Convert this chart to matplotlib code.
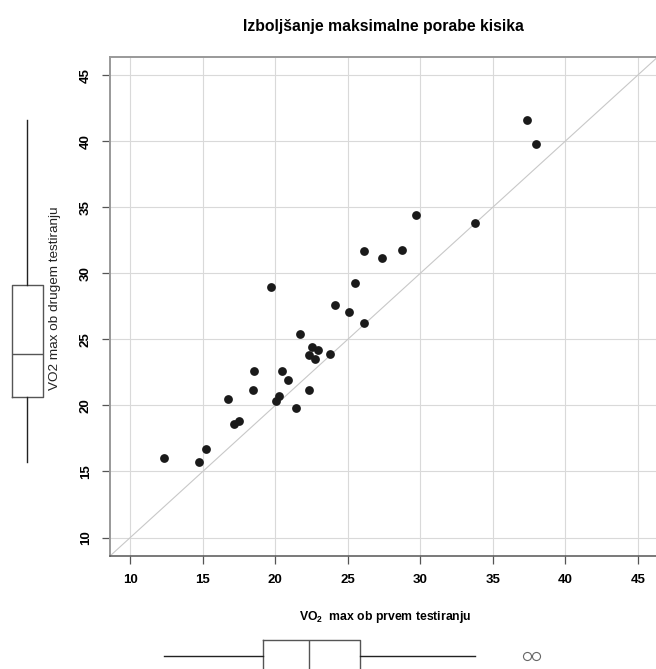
import numpy as np
import matplotlib
matplotlib.use('Agg')
import matplotlib.pyplot as plt

# VO2 max pri prvem in drugem testiranju (odčitano s slike)
prvo = [37.35, 37.97, 29.73, 33.75, 26.13, 28.73, 27.33, 19.71, 25.51, 24.12,
        25.12, 26.15, 21.72, 22.50, 22.97, 22.33, 22.72, 23.75, 18.53, 20.44,
        20.86, 18.43, 22.35, 16.76, 20.25, 20.05, 21.45, 17.52, 17.13, 15.22,
        12.30, 14.73]
drugo = [41.61, 39.80, 34.40, 33.84, 31.67, 31.80, 31.19, 28.97, 29.23, 27.64,
         27.08, 26.22, 25.42, 24.41, 24.20, 23.83, 23.52, 23.88, 22.61, 22.61,
         21.93, 21.13, 21.13, 20.52, 20.70, 20.32, 19.84, 18.83, 18.63, 16.71,
         16.05, 15.73]

oznake = [10, 15, 20, 25, 30, 35, 40, 45]
meje = (10, 45)

naslov = 'Izboljšanje maksimalne porabe kisika'
x_naslov = r'VO$_{\mathbf{2}}$  max ob prvem testiranju'
y_naslov = 'VO2 max ob drugem testiranju'

plt.rcParams['font.family'] = ['Liberation Sans', 'DejaVu Sans']
plt.rcParams['mathtext.fontset'] = 'custom'
plt.rcParams['mathtext.rm'] = 'Liberation Sans'
plt.rcParams['mathtext.bf'] = 'Liberation Sans:bold'

W, H = 656, 669


def px(l, t, w, h):
    # pravokotnik v pikslih (od zgoraj levo) -> delež slike
    return [l / W, 1 - (t + h) / H, w / W, h / H]


def r_boxstats(v):
    # kot R boxplot.stats (fivenum + 1.5 IQR)
    v = np.sort(np.asarray(v, dtype=float))
    n = len(v)
    n4 = np.floor((n + 3) / 2) / 2
    d = np.array([1, n4, (n + 1) / 2, n + 1 - n4, n]) - 1
    q = 0.5 * (v[np.floor(d).astype(int)] + v[np.ceil(d).astype(int)])
    iqr = q[3] - q[1]
    lo = v[v >= q[1] - 1.5 * iqr].min()
    hi = v[v <= q[3] + 1.5 * iqr].max()
    return dict(med=q[2], q1=q[1], q3=q[3], whislo=lo, whishi=hi,
                fliers=v[(v < lo) | (v > hi)])


rob = 0.04 * (meje[1] - meje[0])
lim = (meje[0] - rob, meje[1] + rob)

fig = plt.figure(figsize=(W / 100, H / 100), dpi=100)

ax = fig.add_axes(px(110, 56.7, 548, 499.3))
ax.set_xlim(lim)
ax.set_ylim(lim)
ax.set_xticks(oznake)
ax.set_yticks(oznake)
ax.set_xticklabels(oznake, fontweight='bold', fontsize=9.5)
ax.set_yticklabels(oznake, fontweight='bold', fontsize=9.5, rotation=90, va='center')
ax.tick_params(axis='x', length=5.5, width=0.9, color='#555555', pad=7.5)
ax.tick_params(axis='y', length=5.5, width=0.9, color='#555555', pad=7.5)
ax.grid(True, color='#d9d9d9', lw=0.8)
ax.set_axisbelow(True)
ax.axline((meje[0], meje[0]), slope=1, color='#c8c8c8', lw=0.8, zorder=2)
ax.scatter(prvo, drugo, s=40, c='#1a1a1a', linewidths=0, zorder=3)
for s in ['left', 'top', 'right']:
    ax.spines[s].set_color('#999999')
    ax.spines[s].set_linewidth(1.4)
ax.spines['bottom'].set_color('#555555')
ax.spines['bottom'].set_linewidth(1.1)

fig.text(383.5 / W, 1 - 31 / H, naslov, ha='center', va='baseline',
         fontsize=11.3, fontweight='bold')
fig.text(385 / W, 1 - 620 / H, x_naslov, ha='center', va='baseline',
         fontsize=8.8, fontweight='bold')
fig.text(55 / W, 1 - 298 / H, y_naslov, ha='center', va='center',
         rotation=90, fontsize=9.7, color='#222222')

box_kw = dict(showcaps=False, patch_artist=False,
              boxprops=dict(color='#555555', lw=1),
              medianprops=dict(color='#555555', lw=1),
              whiskerprops=dict(color='#222222', lw=1),
              flierprops=dict(marker='o', mfc='none', mec='#666666', ms=5.8, mew=0.8))

# levi boxplot (drugo testiranje)
axl = fig.add_axes(px(0, 56.7, 80, 499.3))
axl.set_xlim(0, 80)
axl.set_ylim(lim)
axl.bxp([r_boxstats(drugo)], positions=[27.3], widths=31.3, **box_kw)
axl.set_xlim(0, 80)
axl.axis('off')

# spodnji boxplot (prvo testiranje)
axb = fig.add_axes(px(110, 625, 548, 44))
axb.set_xlim(lim)
axb.set_ylim(44, 0)
axb.bxp([r_boxstats(prvo)], positions=[30.7], widths=31.3,
        orientation='horizontal', **box_kw)
axb.set_xlim(lim)
axb.set_ylim(44, 0)
axb.axis('off')

plt.savefig('out.png', dpi=100)
